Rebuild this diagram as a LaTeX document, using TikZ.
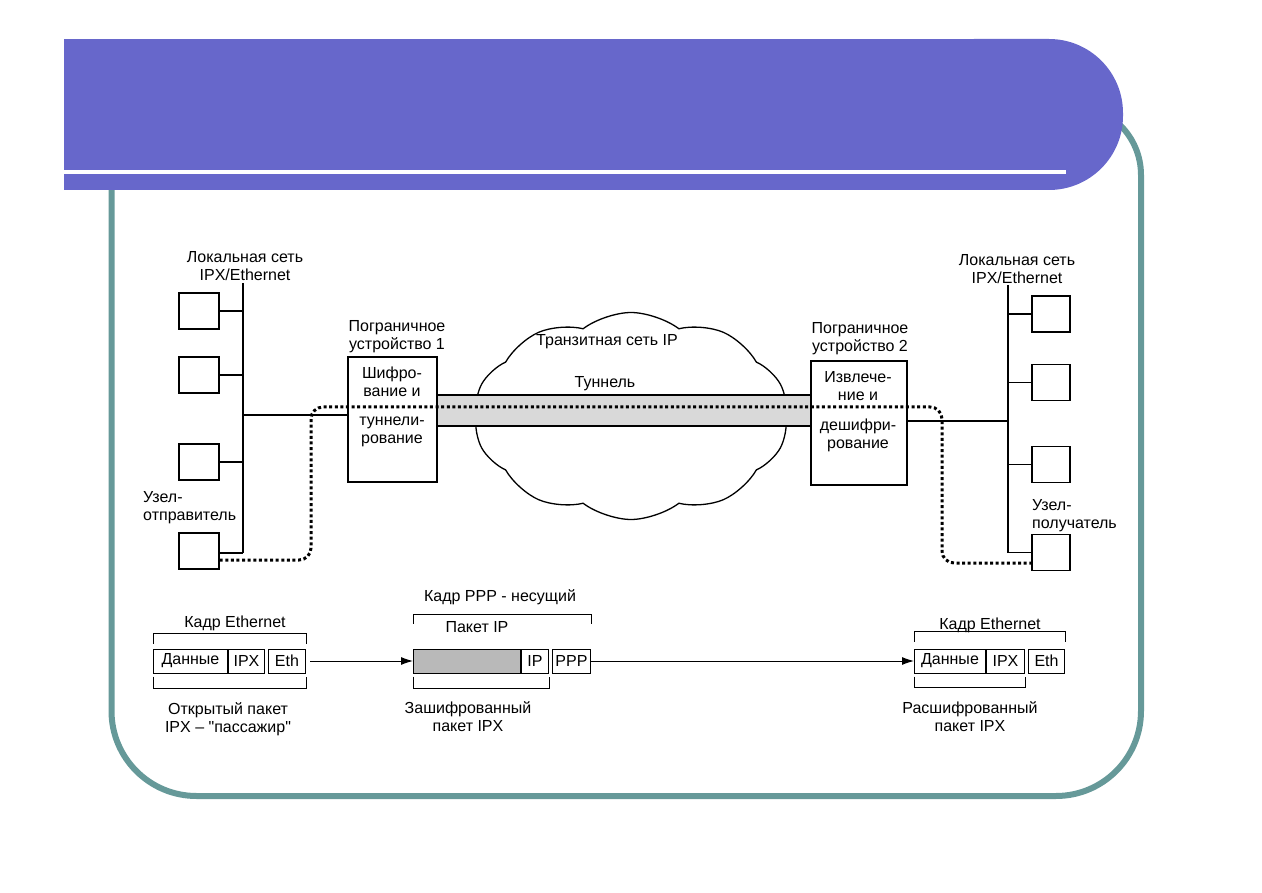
\documentclass[tikz,border=0pt]{standalone}
\usepackage{fontspec}
\setmainfont{Liberation Sans}[Ligatures=TeXOff]
\usetikzlibrary{shapes.symbols,arrows.meta}
\definecolor{hdr}{HTML}{6767CB}
\definecolor{framecol}{HTML}{669999}
\begin{document}
\begin{tikzpicture}[x=1pt,y=-1pt,
  font=\fontsize{16}{18}\selectfont,
  host/.style={draw, line width=1.3pt, minimum width=40pt, minimum height=36pt, inner sep=0},
  gwbox/.style={draw, line width=1.3pt, fill=white, inner sep=0},
  wire/.style={line width=1.3pt},
  dotline/.style={line width=3pt, dash pattern=on 3pt off 2.6pt, rounded corners=12pt},
  cell/.style={draw, line width=1pt, minimum height=24pt, inner sep=0},
  lbl/.style={align=center, inner sep=0},
  brk/.style={line width=1pt},
  arr/.style={line width=1pt, -{Latex[length=12pt,width=8pt]}}]

\useasboundingbox (0,0) rectangle (1262,893);

% slide frame and header
\draw[framecol, line width=6pt, rounded corners=85pt] (111.5,150) -- (111.5,796) -- (1141,796) [rounded corners=70pt] -- (1141,105) -- (1000,105);
\fill[hdr] (64,39) rectangle (1000,190);
\fill[hdr, rounded corners=74pt] (900,39) rectangle (1123,190);
\fill[white] (64,170) rectangle (1066,174);

% left LAN
\node[lbl] (labL) at (245,266) {Локальная сеть\\IPX/Ethernet};
\coordinate (bLt) at (243,283);
\coordinate (bLb) at (243,553);
\node[host] (hL1) at (199,311) {};
\node[host] (hL2) at (199,375) {};
\node[host] (hL3) at (199,462) {};
\node[host] (hL4) at (199,551) {};
\draw[wire] (bLt) -- (bLb);
\foreach \h in {hL1,hL2,hL3} \draw[wire] (\h.east) -- (\h.east -| bLt);
\coordinate (s4) at ([yshift=-2pt]hL4.east);
\draw[wire] (s4) -- (s4 -| bLt);
\node[lbl, align=left, anchor=west] (snd) at (143,507.5) {Узел-\\отправитель};

% right LAN
\node[lbl] (labR) at (1017,269) {Локальная сеть\\IPX/Ethernet};
\coordinate (bRt) at (1008,285);
\coordinate (bRb) at (1008,553);
\node[host, minimum width=38pt] (hR1) at (1051,314) {};
\node[host, minimum width=38pt] (hR2) at (1051,382.5) {};
\node[host, minimum width=38pt] (hR3) at (1051,464.5) {};
\node[host, minimum width=38pt] (hR4) at (1051,552.5) {};
\draw[wire] (bRt) -- (bRb);
\foreach \h in {hR1,hR2,hR3,hR4} \draw[wire] (\h.west) -- (\h.west -| bRt);
\node[lbl, align=left, anchor=west] (rcv) at (1032,516) {Узел-\\получатель};

% cloud and tunnel
\node[cloud, draw, line width=1.3pt, fill=white, cloud puffs=10, cloud puff arc=75, aspect=1.55, minimum width=314pt, minimum height=207pt, inner sep=0] (cl) at (631,416) {};
\node[lbl] (clt) at (607,342) {Транзитная сеть IP};
\coordinate (tA) at (437,395);
\coordinate (tB) at (811,426);
\fill[gray!30] (tA) rectangle (tB);
\draw[wire] (tA) -- (tA -| tB);
\draw[wire] (tA |- tB) -- (tB);
\node[lbl] (tunl) at (605,384) {Туннель};

% gateways
\node[lbl] (gw1t) at (397,337) {Пограничное\\устройство 1};
\node[gwbox, minimum width=89pt, minimum height=125pt] (gw1) at (392.5,419.5) {};
\node[lbl] (gw1a) at (392,382) {Шифро-\\вание и};
\node[lbl] (gw1b) at (392,431.5) {туннели-\\рование};
\node[lbl] (gw2t) at (860,338.5) {Пограничное\\устройство 2};
\node[gwbox, minimum width=96pt, minimum height=124pt] (gw2) at (859,423) {};
\node[lbl] (gw2a) at (858,386) {Извлече-\\ние и};
\node[lbl] (gw2b) at (858,435) {дешифри-\\рование};

\coordinate (l1) at ([yshift=4.5pt]gw1.west);
\draw[wire] (l1) -- (l1 -| bLt);
\coordinate (l2) at ([yshift=2pt]gw2.east);
\draw[wire] (l2) -- (l2 -| bRt);

% dotted path of the packet
\coordinate (d1) at ([yshift=-9pt]hL4.east);
\coordinate (d2) at ([yshift=-10.5pt]hR4.west);
\coordinate (bendL) at (311,407);
\coordinate (bendR) at (942,407);
\draw[dotline] (d1) -- (d1 -| bendL) -- (bendL) -- (bendR) -- (bendR |- d2) -- (d2);

% packets: left
\node[lbl] (kL) at (235,623) {Кадр Ethernet};
\node[cell, minimum width=74pt, anchor=west] (lD) at (153,661) {Данные};
\node[cell, minimum width=36pt, anchor=west] (lI) at (lD.east) {IPX};
\node[cell, minimum width=37pt, anchor=west] (lE) at ([xshift=3pt]lI.east) {Eth};
\draw[brk] ([yshift=5pt]lD.north west) -- ([yshift=15pt]lD.north west) -- ([yshift=15pt]lE.north east) -- ([yshift=5pt]lE.north east);
\draw[brk] ([yshift=-3pt]lD.south west) -- ([yshift=-15pt]lD.south west) -- ([yshift=-15pt]lE.south east) -- ([yshift=-3pt]lE.south east);
\node[lbl] (oL) at (228,719.5) {Открытый пакет\\IPX – "пассажир"};

% packets: middle
\node[lbl] (kM) at (500,597) {Кадр PPP - несущий};
\node[lbl] (pM) at (477,627) {Пакет IP};
\node[cell, fill=gray!55, minimum width=107pt, anchor=west] (mS) at (413,661) {};
\node[cell, minimum width=27pt, anchor=west] (mI) at (mS.east) {IP};
\node[cell, minimum width=38pt, anchor=west] (mP) at ([xshift=3pt]mI.east) {PPP};
\draw[brk] ([yshift=25pt]mS.north west) -- ([yshift=34pt]mS.north west) -- ([yshift=34pt]mP.north east) -- ([yshift=25pt]mP.north east);
\draw[brk] ([yshift=-3pt]mS.south west) -- ([yshift=-15pt]mS.south west) -- ([yshift=-15pt]mI.south east) -- ([yshift=-3pt]mI.south east);
\node[lbl] (zM) at (468,716.5) {Зашифрованный\\пакет IPX};

% packets: right
\node[lbl] (kR) at (990,625) {Кадр Ethernet};
\node[cell, minimum width=71pt, anchor=west] (rD) at (914,661) {Данные};
\node[cell, minimum width=38pt, anchor=west] (rI) at (rD.east) {IPX};
\node[cell, minimum width=36pt, anchor=west] (rE) at ([xshift=3pt]rI.east) {Eth};
\draw[brk] ([yshift=7pt]rD.north west) -- ([yshift=17pt]rD.north west) -- ([yshift=17pt]rE.north east) -- ([yshift=7pt]rE.north east);
\draw[brk] ([yshift=-3pt]rD.south west) -- ([yshift=-14pt]rD.south west) -- ([yshift=-14pt]rI.south east) -- ([yshift=-3pt]rI.south east);
\node[lbl] (zR) at (970,716.5) {Расшифрованный\\пакет IPX};

% arrows
\draw[arr] ([xshift=4pt]lE.east) -- (mS.west);
\draw[arr] (mP.east) -- (rD.west);
\end{tikzpicture}
\end{document}
